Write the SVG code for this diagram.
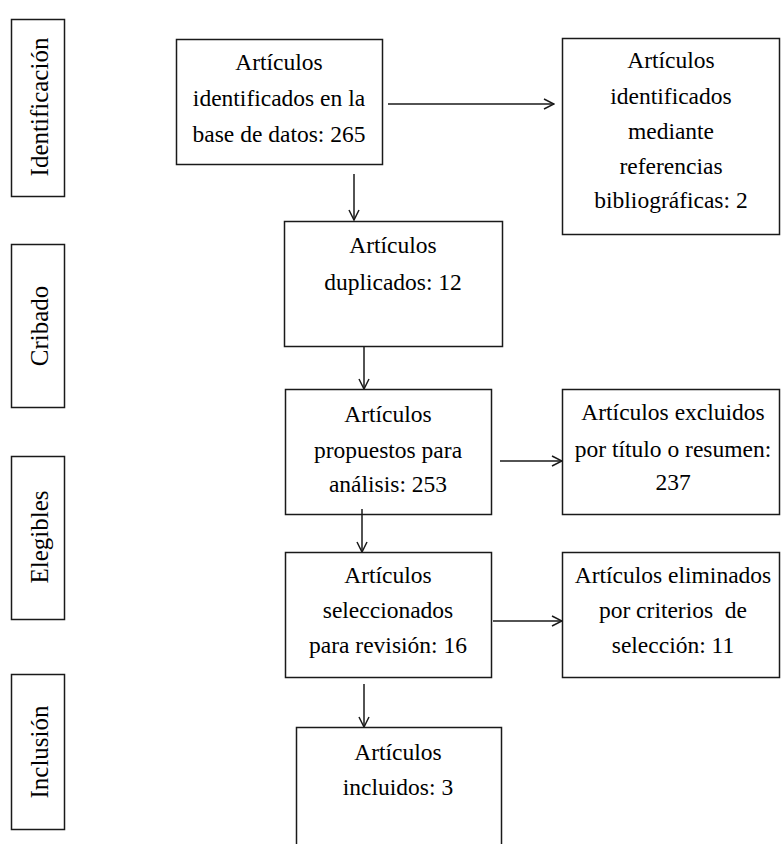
<svg xmlns="http://www.w3.org/2000/svg" width="781" height="844" viewBox="0 0 781 844">
<defs>
<style>
.box{fill:#fff;stroke:#1a1a1a;stroke-width:1.5}
.t{font-family:"Liberation Serif","Times New Roman",serif;font-size:23.5px;fill:#000;text-anchor:middle}
.s{font-family:"Liberation Serif","Times New Roman",serif;font-size:25px;fill:#000;text-anchor:middle}
.c{stroke:#1a1a1a;stroke-width:1.5;fill:none}
</style>
<marker id="ah" viewBox="0 0 12 12" refX="11" refY="6" markerWidth="12" markerHeight="12" markerUnits="userSpaceOnUse" orient="auto">
<path d="M1,1 L11,6 L1,11" fill="none" stroke="#1a1a1a" stroke-width="1.5"/>
</marker>
</defs>
<rect width="781" height="844" fill="#fff"/>
<g id="stage-identificacion"><rect class="box" x="11.5" y="19.5" width="53" height="177"/><text class="s" transform="translate(48,107) rotate(-90)">Identificación</text></g>
<g id="stage-cribado"><rect class="box" x="11.5" y="244.5" width="53" height="163"/><text class="s" transform="translate(48,326) rotate(-90)">Cribado</text></g>
<g id="stage-elegibles"><rect class="box" x="11.5" y="456.5" width="53" height="163"/><text class="s" transform="translate(48,537) rotate(-90)">Elegibles</text></g>
<g id="stage-inclusion"><rect class="box" x="11.5" y="674.5" width="53" height="155"/><text class="s" transform="translate(48,752) rotate(-90)">Inclusión</text></g>
<g id="n1"><rect class="box" x="176.5" y="39.5" width="206" height="125"/><text class="t" x="279" y="70">Artículos</text><text class="t" x="279" y="106">identificados en la</text><text class="t" x="279" y="142">base de datos: 265</text></g>
<g id="n-ref"><rect class="box" x="562.5" y="38.5" width="217" height="196"/><text class="t" x="671" y="68">Artículos</text><text class="t" x="671" y="104">identificados</text><text class="t" x="671" y="139">mediante</text><text class="t" x="671" y="174">referencias</text><text class="t" x="671" y="208">bibliográficas: 2</text></g>
<g id="n2"><rect class="box" x="284.5" y="221.5" width="218" height="125"/><text class="t" x="393" y="253">Artículos</text><text class="t" x="393" y="290">duplicados: 12</text></g>
<g id="n3"><rect class="box" x="285.5" y="389.5" width="206" height="125"/><text class="t" x="388" y="422">Artículos</text><text class="t" x="388" y="458">propuestos para</text><text class="t" x="388" y="492">análisis: 253</text></g>
<g id="n-excl"><rect class="box" x="562.5" y="389.5" width="217" height="125"/><text class="t" x="673" y="420">Artículos excluidos</text><text class="t" x="673" y="457">por título o resumen:</text><text class="t" x="673" y="490">237</text></g>
<g id="n4"><rect class="box" x="285.5" y="552.5" width="206" height="125"/><text class="t" x="388" y="583">Artículos</text><text class="t" x="388" y="618">seleccionados</text><text class="t" x="388" y="653">para revisión: 16</text></g>
<g id="n-elim"><rect class="box" x="562.5" y="552.5" width="217" height="125"/><text class="t" x="673" y="583">Artículos eliminados</text><text class="t" x="673" y="618" xml:space="preserve">por criterios  de</text><text class="t" x="673" y="653">selección: 11</text></g>
<g id="n5"><rect class="box" x="296.5" y="727.5" width="205" height="130"/><text class="t" x="398" y="760">Artículos</text><text class="t" x="398" y="795">incluidos: 3</text></g>
<g id="connectors">
<line class="c" x1="354" y1="174" x2="354" y2="220" marker-end="url(#ah)"/>
<line class="c" x1="388" y1="104" x2="554" y2="104" marker-end="url(#ah)"/>
<line class="c" x1="364" y1="347" x2="364" y2="389" marker-end="url(#ah)"/>
<line class="c" x1="362" y1="509" x2="362" y2="552" marker-end="url(#ah)"/>
<line class="c" x1="500" y1="461" x2="562" y2="461" marker-end="url(#ah)"/>
<line class="c" x1="364" y1="684" x2="364" y2="727" marker-end="url(#ah)"/>
<line class="c" x1="493" y1="621" x2="562" y2="621" marker-end="url(#ah)"/>
</g>
</svg>
